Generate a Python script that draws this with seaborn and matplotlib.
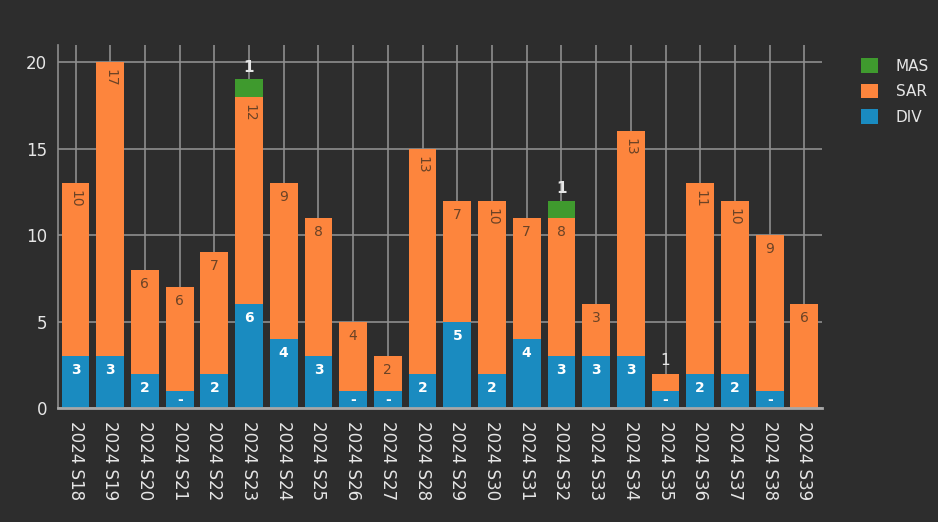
import matplotlib
matplotlib.use('Agg')
import matplotlib.pyplot as plt
from matplotlib.patches import Patch
import numpy as np
import pandas as pd
import seaborn as sns

weeks = ['2024 S18', '2024 S19', '2024 S20', '2024 S21', '2024 S22', '2024 S23', '2024 S24', '2024 S25',
         '2024 S26', '2024 S27', '2024 S28', '2024 S29', '2024 S30', '2024 S31', '2024 S32', '2024 S33',
         '2024 S34', '2024 S35', '2024 S36', '2024 S37', '2024 S38', '2024 S39']
div = [3, 3, 2, 1, 2, 6, 4, 3, 1, 1, 2, 5, 2, 4, 3, 3, 3, 1, 2, 2, 1, 0]
sar = [10, 17, 6, 6, 7, 12, 9, 8, 4, 2, 13, 7, 10, 7, 8, 3, 13, 1, 11, 10, 9, 6]
mas = [0, 0, 0, 0, 0, 1, 0, 0, 0, 0, 0, 0, 0, 0, 1, 0, 0, 0, 0, 0, 0, 0]

bg = '#2d2d2d'
c_div = '#1a8bc0'
c_sar = '#fd853d'
c_mas = '#3f9a2e'
grid_c = '#8e8e8e'
txt_c = '#e6e6e6'

df = pd.DataFrame({'week': weeks, 'DIV': div, 'SAR': sar, 'MAS': mas})
df['d_top'] = df['DIV']
df['s_top'] = df['DIV'] + df['SAR']
df['m_top'] = df['s_top'] + df['MAS']

sns.set_style('dark')
plt.rcParams['font.family'] = ['DejaVu Sans']

fig = plt.figure(figsize=(9.38, 5.22), dpi=100, facecolor=bg)
ax = fig.add_axes([0.062, 0.218, 0.814, 0.696])
ax.set_facecolor(bg)

# draw tallest stack first, then cover with lower segments
bar_kw = dict(saturation=1, width=0.8, ax=ax, zorder=3, linewidth=0, edgecolor='none')
sns.barplot(data=df, x='week', y='m_top', color=c_mas, **bar_kw)
sns.barplot(data=df, x='week', y='s_top', color=c_sar, **bar_kw)
sns.barplot(data=df, x='week', y='d_top', color=c_div, **bar_kw)

ax.set_xlim(-0.5, len(weeks) - 0.5)
ax.set_ylim(0, 21)
ax.set_yticks([0, 5, 10, 15, 20])
ax.set_xlabel('')
ax.set_ylabel('')

ax.grid(True, axis='both', color=grid_c, linewidth=1.2, zorder=0)
ax.set_axisbelow(True)
for s in ['top', 'right']:
    ax.spines[s].set_visible(False)
ax.spines['left'].set_visible(True)
ax.spines['left'].set_color(grid_c)
ax.spines['left'].set_linewidth(1.2)
ax.spines['bottom'].set_visible(True)
ax.spines['bottom'].set_color('#a8a8a8')
ax.spines['bottom'].set_linewidth(2)
ax.spines['bottom'].set_zorder(4)

ax.tick_params(axis='x', colors=txt_c, labelsize=12, length=0, pad=9)
ax.tick_params(axis='y', colors=txt_c, labelsize=12, length=0, pad=8)
plt.setp(ax.get_xticklabels(), rotation=270, va='top', ha='center')

# value labels
off = 0.4
for i in range(len(weeks)):
    d, s, m = div[i], sar[i], mas[i]
    if d == 1:
        ax.text(i, d / 2, '-', color='white', fontsize=10, fontweight='bold',
                ha='center', va='center', zorder=5)
    elif d > 1:
        ax.text(i, d - off, str(d), color='white', fontsize=10, fontweight='bold',
                ha='center', va='top', zorder=5)
    if s > 0:
        if s == 1:
            ax.text(i, d + s + 0.3, str(s), color=txt_c, fontsize=11,
                    ha='center', va='bottom', zorder=5)
        elif s >= 10:
            ax.text(i, d + s - off, str(s), color='#6b4326', fontsize=10, rotation=270,
                    ha='center', va='top', zorder=5)
        else:
            ax.text(i, d + s - off, str(s), color='#6b4326', fontsize=10,
                    ha='center', va='top', zorder=5)
    if m > 0:
        ax.text(i, d + s + m + 0.25, str(m), color=txt_c, fontsize=11, fontweight='bold',
                ha='center', va='bottom', zorder=5)

handles = [Patch(facecolor=c_mas, edgecolor='none', label='MAS'),
           Patch(facecolor=c_sar, edgecolor='none', label='SAR'),
           Patch(facecolor=c_div, edgecolor='none', label='DIV')]
leg = fig.legend(handles=handles, loc='upper left', bbox_to_anchor=(0.903, 0.915),
                 frameon=False, fontsize=11, handlelength=1.1, handleheight=1.1,
                 labelspacing=0.65, handletextpad=1.2)
for t in leg.get_texts():
    t.set_color(txt_c)

fig.savefig('out.png', dpi=100, facecolor=bg)
